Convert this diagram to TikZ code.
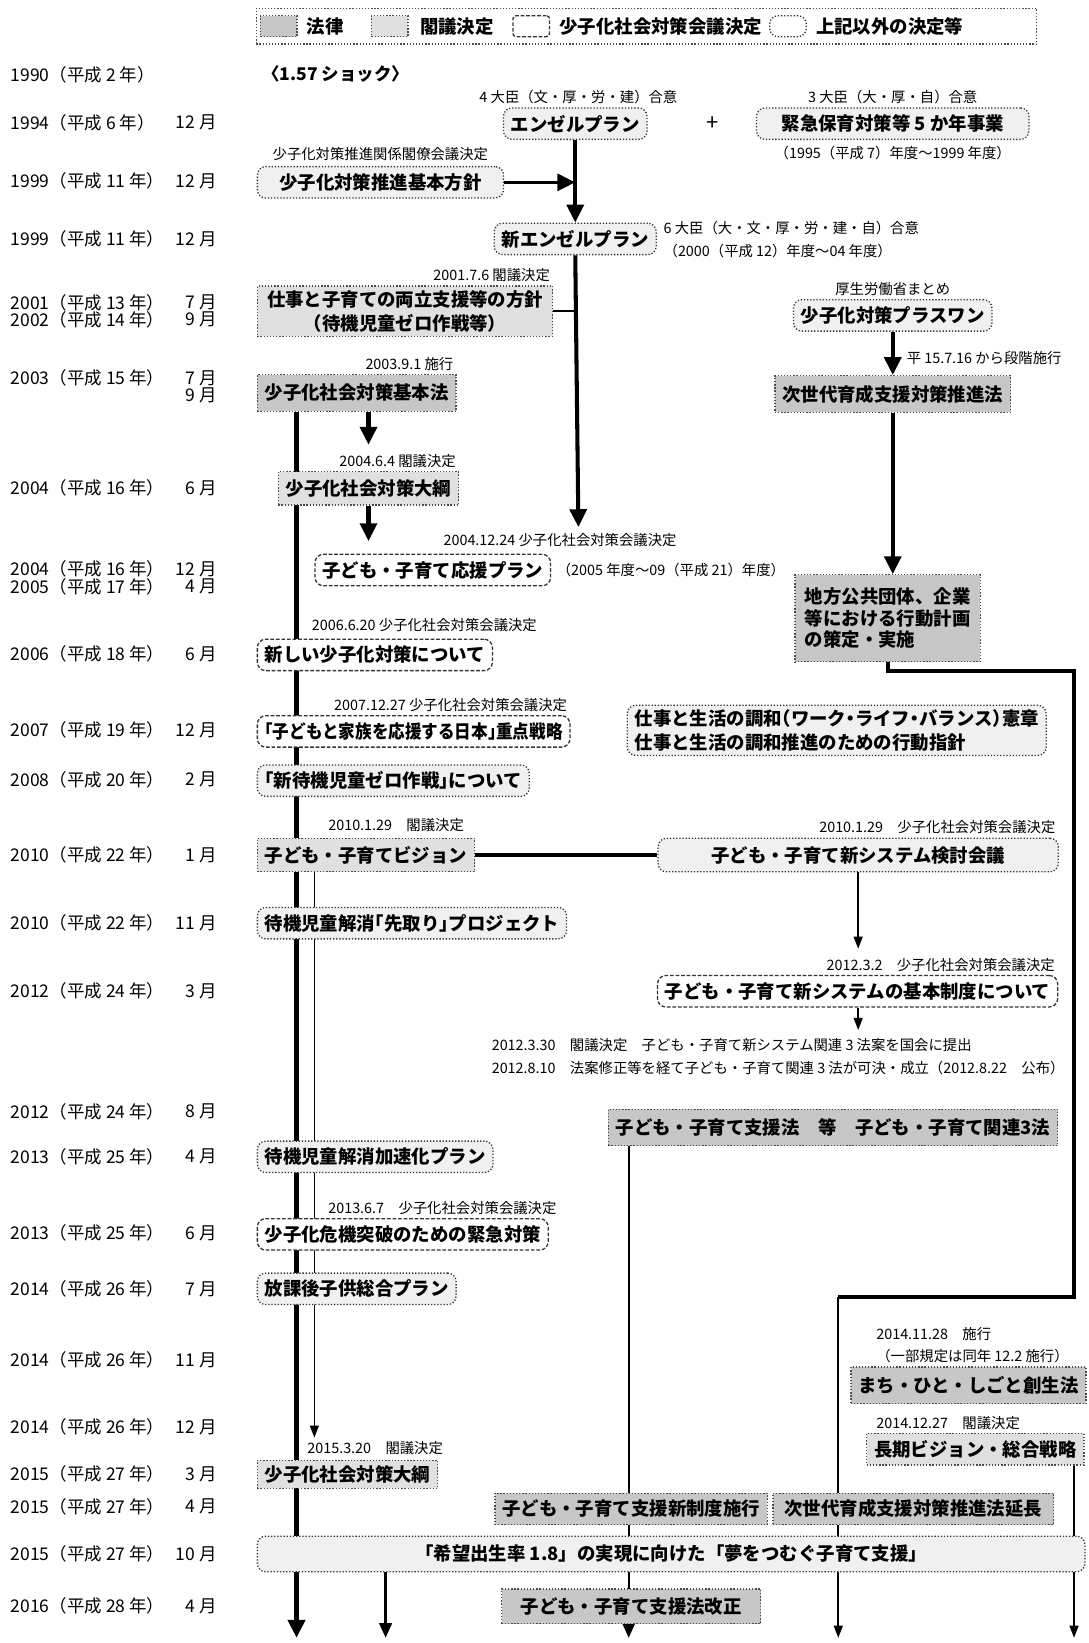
\documentclass[tikz,border=0pt]{standalone}
\usepackage{fontspec}
\setmainfont{Noto Sans CJK JP}
\newfontfamily\jph{Noto Sans CJK JP}[RawFeature=+halt]
\newfontfamily\jpn{Noto Sans CJK JP}[RawFeature=+halt, FakeStretch=0.9]
\usetikzlibrary{arrows.meta,positioning,calc}
\pgfdeclarelayer{background}
\pgfsetlayers{background,main}
\tikzset{
  box/.style={font=\fontsize{10}{13}\selectfont\bfseries, inner xsep=1.4mm, inner ysep=0.8mm, minimum height=6mm, line width=0.7pt},
  law/.style={box, draw=black!70, densely dotted, fill=black!22},
  cabinet/.style={box, draw=black!70, densely dotted, fill=black!12},
  council/.style={box, draw=black!80, dash pattern=on 2pt off 1pt, rounded corners=1.6mm, fill=white},
  other/.style={box, draw=black!80, densely dotted, rounded corners=1.6mm, fill=black!6},
  swatch/.style={minimum width=7mm, minimum height=4mm, inner sep=0pt},
  lg/.style={font=\fontsize{10}{12}\selectfont\bfseries, anchor=west, inner sep=0.5mm},
  yr/.style={font=\fontsize{9.5}{11}\selectfont, anchor=west, inner sep=0pt},
  mo/.style={font=\fontsize{9.5}{11}\selectfont, anchor=east, inner sep=0pt},
  note/.style={font=\fontsize{7.8}{9}\selectfont, inner sep=0.6mm},
  tkl/.style={line width=2.2pt},
  thk/.style={tkl, -{Triangle[width=3.2mm,length=3.4mm]}},
  mid/.style={line width=1.3pt, -{Triangle[width=2.4mm,length=2.8mm]}},
  thn/.style={line width=0.8pt, -{Triangle[width=1.7mm,length=2.3mm]}}
}

\begin{document}
\begin{tikzpicture}[x=0.02cm, y=-0.02cm]
  \useasboundingbox (0,0) rectangle (1039,1568);
  % legend
  \node[draw=black!70, densely dotted, line width=0.7pt, minimum width=14.9cm, minimum height=6.8mm] (legend) at (617,25) {};
  \node[law, swatch] (sw1) at (266,25) {};
  \node[lg] (lg1) at (290,25) {法律};
  \node[cabinet, swatch] (sw2) at (372,25) {};
  \node[lg] (lg2) at (398,25) {閣議決定};
  \node[council, swatch, rounded corners=0.6mm] (sw3) at (507,25) {};
  \node[lg] (lg3) at (531,25) {少子化社会対策会議決定};
  \node[other, swatch, fill=white] (sw4) at (752,25) {};
  \node[lg] (lg4) at (776,25) {上記以外の決定等};

  % years
  \foreach \yy/\yt/\mt in {71/1990（平成 2 年）/, 117/1994（平成 6 年）/12 月, 173/1999（平成 11 年）/12 月,
    228/1999（平成 11 年）/12 月, 289/2001（平成 13 年）/7 月, 305/2002（平成 14 年）/9 月,
    361/2003（平成 15 年）/7 月, 377//9 月, 466/2004（平成 16 年）/6 月, 543/2004（平成 16 年）/12 月,
    560/2005（平成 17 年）/4 月, 624/2006（平成 18 年）/6 月, 697/2007（平成 19 年）/12 月,
    744/2008（平成 20 年）/2 月, 816/2010（平成 22 年）/1 月, 881/2010（平成 22 年）/11 月,
    946/2012（平成 24 年）/3 月, 1061/2012（平成 24 年）/8 月, 1104/2013（平成 25 年）/4 月,
    1177/2013（平成 25 年）/6 月, 1230/2014（平成 26 年）/7 月, 1298/2014（平成 26 年）/11 月,
    1362/2014（平成 26 年）/12 月, 1407/2015（平成 27 年）/3 月, 1438/2015（平成 27 年）/4 月,
    1483/2015（平成 27 年）/10 月, 1533/2016（平成 28 年）/4 月} {
    \node[yr] (y\yy) at (10,\yy) {\yt};
    \node[mo] (m\yy) at (207,\yy) {\mt};
  }

  % 1990 - 2002
  \node[font=\fontsize{9.5}{11}\selectfont\bfseries, anchor=west] (shock) at (244,71) {〈1.57 ショック〉};
  \node[note] (angl) at (552,93) {4 大臣（文・厚・労・建）合意};
  \node[other] (angel) at (549,118) {エンゼルプラン};
  \node[font=\large] (plus) at (680,118) {+};
  \node[note] (kinl) at (852,93) {3 大臣（大・厚・自）合意};
  \node[other, minimum width=5.2cm] (kinkyu) at (852,118) {緊急保育対策等 5 か年事業};
  \node[note] (kinn) at (852,146) {（1995（平成 7）年度〜1999 年度）};
  \node[note] (hoshl) at (363,147) {少子化対策推進関係閣僚会議決定};
  \node[other, anchor=west, minimum width=4.7cm] (hoshin) at (245,174) {少子化対策推進基本方針};
  \node[other] (newangel) at (549,228) {新エンゼルプラン};
  \node[note, anchor=west] (nal1) at (630,218) {6 大臣（大・文・厚・労・建・自）合意};
  \node[note, anchor=west] (nal2) at (630,240) {（2000（平成 12）年度〜04 年度）};
  \node[cabinet, anchor=west, align=center, minimum width=5.64cm] (ryo) at (245,297) {仕事と子育ての両立支援等の方針\\{\jph（待機児童ゼロ作戦等）}};
  \node[note, anchor=south east] (ryol) at (ryo.north east) {2001.7.6 閣議決定};
  \node[note] (pol) at (852,276) {厚生労働省まとめ};
  \node[other] (plusone) at (852,301) {少子化対策プラスワン};

  % 2003 - 2005
  \node[law, minimum height=7mm] (jisedai) at (852,376) {次世代育成支援対策推進法};
  \node[note, anchor=west] (jil) at (862,342) {平 15.7.16 から段階施行};
  \node[law, anchor=west, minimum height=7mm] (kihonho) at (245,375) {少子化社会対策基本法};
  \node[note, anchor=south east] (khl) at (kihonho.north east) {2003.9.1 施行};
  \node[cabinet, anchor=west, minimum height=6.4mm] (taiko1) at (265,466) {少子化社会対策大綱};
  \node[note, anchor=south east] (t1l) at (taiko1.north east) {2004.6.4 閣議決定};
  \node[council, anchor=west] (oen) at (300,544) {子ども・子育て応援プラン};
  \node[note, anchor=west] (oenl) at (420,515) {2004.12.24 少子化社会対策会議決定};
  \node[note, right=0.4mm of oen] (oenn) {（2005 年度〜09（平成 21）年度）};
  \node[law, anchor=west, align=left, font=\fontsize{10}{11.8}\selectfont\bfseries, minimum height=1.66cm, minimum width=3.54cm] (chiho) at (758,590) {地方公共団体、企業\\等における行動計画\\の策定・実施};

  % 2006 - 2010
  \node[council, anchor=west] (atara) at (245,625) {新しい少子化対策について};
  \node[note] (atl) at (405,597) {2006.6.20 少子化社会対策会議決定};
  \node[council, anchor=west] (juten) at (245,698) {\jpn「子どもと家族を応援する日本」重点戦略};
  \node[note, anchor=south east] (jul) at (juten.north east) {2007.12.27 少子化社会対策会議決定};
  \node[other, anchor=west, align=left] (wlb) at (598,697) {\jph 仕事と生活の調和（ワーク・ライフ・バランス）憲章\\\jph 仕事と生活の調和推進のための行動指針};
  \node[other, anchor=west] (zero) at (245,745) {\jph「新待機児童ゼロ作戦」について};
  \node[cabinet, anchor=west, minimum height=6.4mm] (vision) at (245,816) {子ども・子育てビジョン};
  \node[note, anchor=west] (vil) at (310,787) {2010.1.29　閣議決定};
  \node[other, minimum width=7.64cm, minimum height=6.4mm] (kentou) at (819,816) {子ども・子育て新システム検討会議};
  \node[note, anchor=south east] (kel) at (kentou.north east) {2010.1.29　少子化社会対策会議決定};
  \node[other, anchor=west] (sakidori) at (245,881) {\jph 待機児童解消「先取り」プロジェクト};

  % 2012 - 2014
  \node[council, anchor=east] (seido) at (1010,946) {子ども・子育て新システムの基本制度について};
  \node[note, anchor=south east] (sel) at (seido.north east) {2012.3.2　少子化社会対策会議決定};
  \node[note, anchor=west] (n1) at (466,997) {2012.3.30　閣議決定　子ども・子育て新システム関連 3 法案を国会に提出};
  \node[note, anchor=west] (n2) at (466,1019) {2012.8.10　法案修正等を経て子ども・子育て関連 3 法が可決・成立（2012.8.22　公布）};
  \node[law, anchor=east, minimum height=7mm] (kanren) at (1010,1076) {子ども・子育て支援法\quad 等\quad 子ども・子育て関連3法};
  \node[other, anchor=west] (kasoku) at (245,1104) {待機児童解消加速化プラン};
  \node[council, anchor=west] (kiki) at (245,1178) {少子化危機突破のための緊急対策};
  \node[note, anchor=west] (kkl) at (310,1153) {2013.6.7　少子化社会対策会議決定};
  \node[other, anchor=west] (houkago) at (245,1230) {放課後子供総合プラン};
  \node[note, anchor=west] (mal1) at (833,1273) {2014.11.28　施行};
  \node[note, anchor=west] (mal2) at (833,1294) {（一部規定は同年 12.2 施行）};
  \node[law, anchor=east, minimum height=7mm] (machi) at (1037,1322) {まち・ひと・しごと創生法};
  \node[note, anchor=west] (chl) at (833,1358) {2014.12.27　閣議決定};
  \node[cabinet, anchor=east] (choki) at (1035,1383) {長期ビジョン・総合戦略};

  % 2015 - 2016
  \node[cabinet, anchor=west, minimum height=5.4mm] (taiko2) at (245,1407) {少子化社会対策大綱};
  \node[note, anchor=west] (t2l) at (290,1382) {2015.3.20　閣議決定};
  \node[law, anchor=east, minimum width=4.94cm] (shinsei) at (733,1440) {子ども・子育て支援新制度施行};
  \node[law, right=0.8mm of shinsei, minimum width=5.36cm] (jisedai2) {次世代育成支援対策推進法延長};
  \node[other, anchor=west, minimum width=15.8cm, minimum height=6.8mm] (kibou) at (245,1483) {「希望出生率 1.8」の実現に向けた「夢をつむぐ子育て支援」};
  \node[law, minimum width=4.94cm, minimum height=6.6mm] (kaisei) at (shinsei |- 0,1533) {子ども・子育て支援法改正};

  % connectors
  \coordinate (bot) at (0,1563);
  \coordinate (lx) at (283,0);
  \coordinate (kx) at (368,0);
  \coordinate (px) at (600,0);
  \coordinate (naend) at (552,503);
  \coordinate (c1) at (1025,640);
  \coordinate (c2) at (1025,1238);
  \coordinate (c3) at (800,1238);
  \coordinate (v2) at (300,1372);
  \coordinate (s2) at (819,983);
  \begin{pgfonlayer}{background}
    \draw[thk] (angel) -- (newangel);
    \draw[thk, line width=1.8pt] (hoshin.east) -- (hoshin.east -| angel.south);
    \draw[thk] (newangel.south) -- (naend);
    \draw[line width=0.8pt] (ryo.east) -- (ryo.east -| newangel.south);
    \draw[thk] (plusone) -- (plusone |- jisedai.north);
    \draw[thk] (jisedai.south) -- (jisedai.south |- chiho.north);
    \draw[tkl] (chiho.south) |- (c1) -- (c2) -- (c3);
    \draw[thn, line width=1pt] (c3) -- (c3 |- bot);
    \draw[thk, line width=2.6pt] (kihonho.south -| lx) -- (lx |- bot);
    \draw[thk, shorten >=5mm] (kihonho.south -| taiko1.north) -- (taiko1.north);
    \draw[thk, shorten >=2.4mm] (taiko1.south) -- (taiko1.south |- oen.north);
    \draw[tkl] (vision) -- (kentou);
    \draw[thn] (vision.south -| v2) -- (v2);
    \draw[thn, shorten >=5mm] (kentou) -- (kentou |- seido.north);
    \draw[thn] (seido.south -| s2) -- (s2);
    \draw[mid] (kanren.south -| px) -- (px |- bot);
    \draw[mid] (kibou.south -| kx) -- (kx |- bot);
    \draw[thn] (choki.south -| c1) -- (c1 |- bot);
  \end{pgfonlayer}
\end{tikzpicture}
\end{document}
